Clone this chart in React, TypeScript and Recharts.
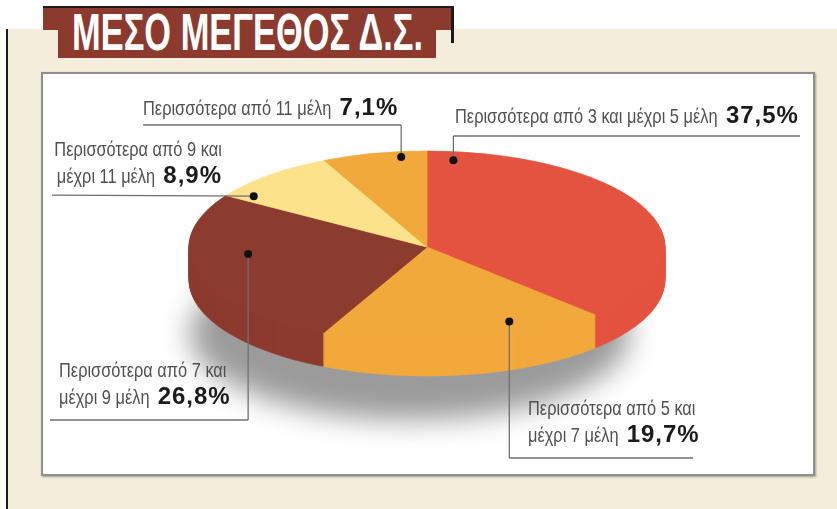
import React from "react";
import { PieChart, Pie, Cell } from "recharts";

// share of companies by board size (%)
const categories = [
  "Περισσότερα από 3 και μέχρι 5 μέλη",
  "Περισσότερα από 5 και μέχρι 7 μέλη",
  "Περισσότερα από 7 και μέχρι 9 μέλη",
  "Περισσότερα από 9 και μέχρι 11 μέλη",
  "Περισσότερα από 11 μέλη",
];
const shares = [37.5, 19.7, 26.8, 8.9, 7.1];
const labelLines = [
  ["Περισσότερα από 3 και μέχρι 5 μέλη"],
  ["Περισσότερα από 5 και", "μέχρι 7 μέλη"],
  ["Περισσότερα από 7 και", "μέχρι 9 μέλη"],
  ["Περισσότερα από 9 και", "μέχρι 11 μέλη"],
  ["Περισσότερα από 11 μέλη"],
];
const COLORS = ["#E4533F", "#F2A93B", "#8C3B2F", "#FDE28C", "#F1A93C"];

const data = categories.map((name, i) => ({ name, value: shares[i] }));

// geometry of the tilted pie (screen px)
const RX = 238;
const RY = 96;
const S = RY / RX; // vertical squash
const CX = 427;
const CY = 247;
const DEPTH = 33;
const W = 837;
const H = Math.ceil(509 / S) + 10;

const layers: number[] = [];
for (let d = DEPTH; d >= 1; d--) layers.push(d);

// where each callout sits
const LABEL_LAYOUT = [
  { dotAngle: 7, dotR: 0.91, x: 455, y: 123, anchor: "start", lineY: 136, lineTo: 800, route: "v" },
  { dotAngle: 156, dotR: 0.85, x: 528, y: 415, anchor: "start", lineY: 458, lineTo: 693, route: "v" },
  { dotAngle: 264.5, dotR: 0.755, x: 59, y: 377, anchor: "start", lineY: 420, lineTo: 50, route: "v" },
  { dotAngle: 306, dotR: 0.9, x: 222, y: 156, anchor: "end", lineY: 0, lineTo: 52, route: "h" },
  { dotAngle: 353.4, dotR: 0.944, x: 143, y: 115, anchor: "start", lineY: 125, lineTo: 143, route: "v" },
];

const FONT = "'Liberation Sans', Arial, sans-serif";
const TEXT_SIZE = 20;
const TEXT_KX = 0.82; // condensed look
const BOLD_SIZE = 24;
const BOLD_SPACING = 1;
const GAP = 8;

const fmt = (v: number) => v.toFixed(1).replace(".", ",") + "%";

let ctx: CanvasRenderingContext2D | null = null;
function measure(text: string, font: string) {
  if (!ctx) ctx = document.createElement("canvas").getContext("2d");
  if (!ctx) return text.length * 8;
  ctx.font = font;
  return ctx.measureText(text).width;
}

function renderLabel(props: any) {
  const { cx, cy, outerRadius, index } = props;
  const L = LABEL_LAYOUT[index];
  const a = (L.dotAngle * Math.PI) / 180;
  const px = cx + L.dotR * outerRadius * Math.sin(a);
  const py = (cy - L.dotR * outerRadius * Math.cos(a)) * S;
  const lines = labelLines[index];
  const value = fmt(shares[index]);
  const stroke = "#6f6f6f";

  return (
    <g key={`lbl-${index}`} transform={`scale(1 ${1 / S})`}>
      {L.route === "v" ? (
        <>
          <line x1={L.lineTo} y1={L.lineY} x2={px} y2={L.lineY} stroke={stroke} strokeWidth={1.3} />
          <line x1={px} y1={L.lineY} x2={px} y2={py} stroke={stroke} strokeWidth={1.3} />
        </>
      ) : (
        <line x1={L.lineTo} y1={py - 1} x2={px} y2={py} stroke={stroke} strokeWidth={1.3} />
      )}
      <circle cx={px} cy={py} r={4} fill="#111" />
      {lines.map((t, i) => {
        const last = i === lines.length - 1;
        const w1 = measure(t, `${TEXT_SIZE}px 'Liberation Sans'`) * TEXT_KX;
        const w2 = last
          ? measure(value, `bold ${BOLD_SIZE}px 'Liberation Sans'`) + value.length * BOLD_SPACING
          : 0;
        const total = w1 + (last ? GAP + w2 : 0);
        const x0 = L.anchor === "end" ? L.x - total : L.x;
        const y = L.y + i * 27;
        return (
          <g key={i}>
            <text
              transform={`translate(${x0} ${y}) scale(${TEXT_KX} 1)`}
              fontFamily={FONT}
              fontSize={TEXT_SIZE}
              fill="#505050"
            >
              {t}
            </text>
            {last && (
              <text
                x={x0 + w1 + GAP}
                y={y}
                fontFamily={FONT}
                fontWeight="bold"
                fontSize={BOLD_SIZE}
                letterSpacing={BOLD_SPACING}
                fill="#1b1b1b"
              >
                {value}
              </text>
            )}
          </g>
        );
      })}
    </g>
  );
}

export default function App() {
  return (
    <div style={{ position: "absolute", left: 0, top: 0, width: W, height: 509, overflow: "hidden", background: "#fff" }}>
      {/* beige panel */}
      <div style={{ position: "absolute", left: 8, top: 29, width: W - 8, height: 480, background: "#F5EDDC" }} />
      <div style={{ position: "absolute", left: 6, top: 29, width: 2, height: 480, background: "#1a1a1a" }} />

      {/* title ribbon */}
      <div style={{ position: "absolute", left: 43, top: 6, width: 411, height: 2, background: "#1a1a1a" }} />
      <div style={{ position: "absolute", left: 43, top: 8, width: 408, height: 22, background: "#8C3A2D" }} />
      <div style={{ position: "absolute", left: 58, top: 8, width: 378, height: 50, background: "#8C3A2D" }} />
      <div style={{ position: "absolute", left: 451, top: 8, width: 3, height: 35, background: "#1a1a1a" }} />
      <svg width={W} height={70} style={{ position: "absolute", left: 0, top: 0 }}>
        <text
          x={72}
          y={50}
          textLength={351}
          lengthAdjust="spacingAndGlyphs"
          fontFamily={FONT}
          fontWeight="bold"
          fontSize={51}
          fill="#fff"
        >
          ΜΕΣΟ ΜΕΓΕΘΟΣ Δ.Σ.
        </text>
      </svg>

      {/* white chart box */}
      <div
        style={{
          position: "absolute",
          left: 41,
          top: 72,
          width: 774,
          height: 404,
          boxSizing: "border-box",
          background: "#fff",
          border: "2px solid #8e8e8e",
          boxShadow: "1px 1px 2px rgba(0,0,0,0.35)",
        }}
      />

      {/* soft shadow under the pie */}
      <div
        style={{
          position: "absolute",
          left: 190,
          top: 246,
          width: 440,
          height: 174,
          borderRadius: "50%",
          background: "#9b9b9b",
          filter: "blur(14px)",
        }}
      />

      {/* pie, drawn round and squashed into perspective */}
      <div
        style={{
          position: "absolute",
          left: 0,
          top: 0,
          width: W,
          height: H,
          transform: `scaleY(${S})`,
          transformOrigin: "0 0",
        }}
      >
        <PieChart width={W} height={H} margin={{ top: 0, right: 0, bottom: 0, left: 0 }}>
          {layers.map((d) => (
            <Pie
              key={`layer-${d}`}
              data={data}
              dataKey="value"
              nameKey="name"
              cx={CX}
              cy={(CY + d) / S}
              outerRadius={RX}
              startAngle={90}
              endAngle={-270}
              isAnimationActive={false}
            >
              {data.map((e, i) => (
                <Cell key={i} fill={COLORS[i]} stroke={COLORS[i]} strokeWidth={1} />
              ))}
            </Pie>
          ))}
          <Pie
            data={data}
            dataKey="value"
            nameKey="name"
            cx={CX}
            cy={CY / S}
            outerRadius={RX}
            startAngle={90}
            endAngle={-270}
            isAnimationActive={false}
            label={renderLabel}
            labelLine={false}
          >
            {data.map((e, i) => (
              <Cell key={i} fill={COLORS[i]} stroke={COLORS[i]} strokeWidth={1} />
            ))}
          </Pie>
        </PieChart>
      </div>
    </div>
  );
}
